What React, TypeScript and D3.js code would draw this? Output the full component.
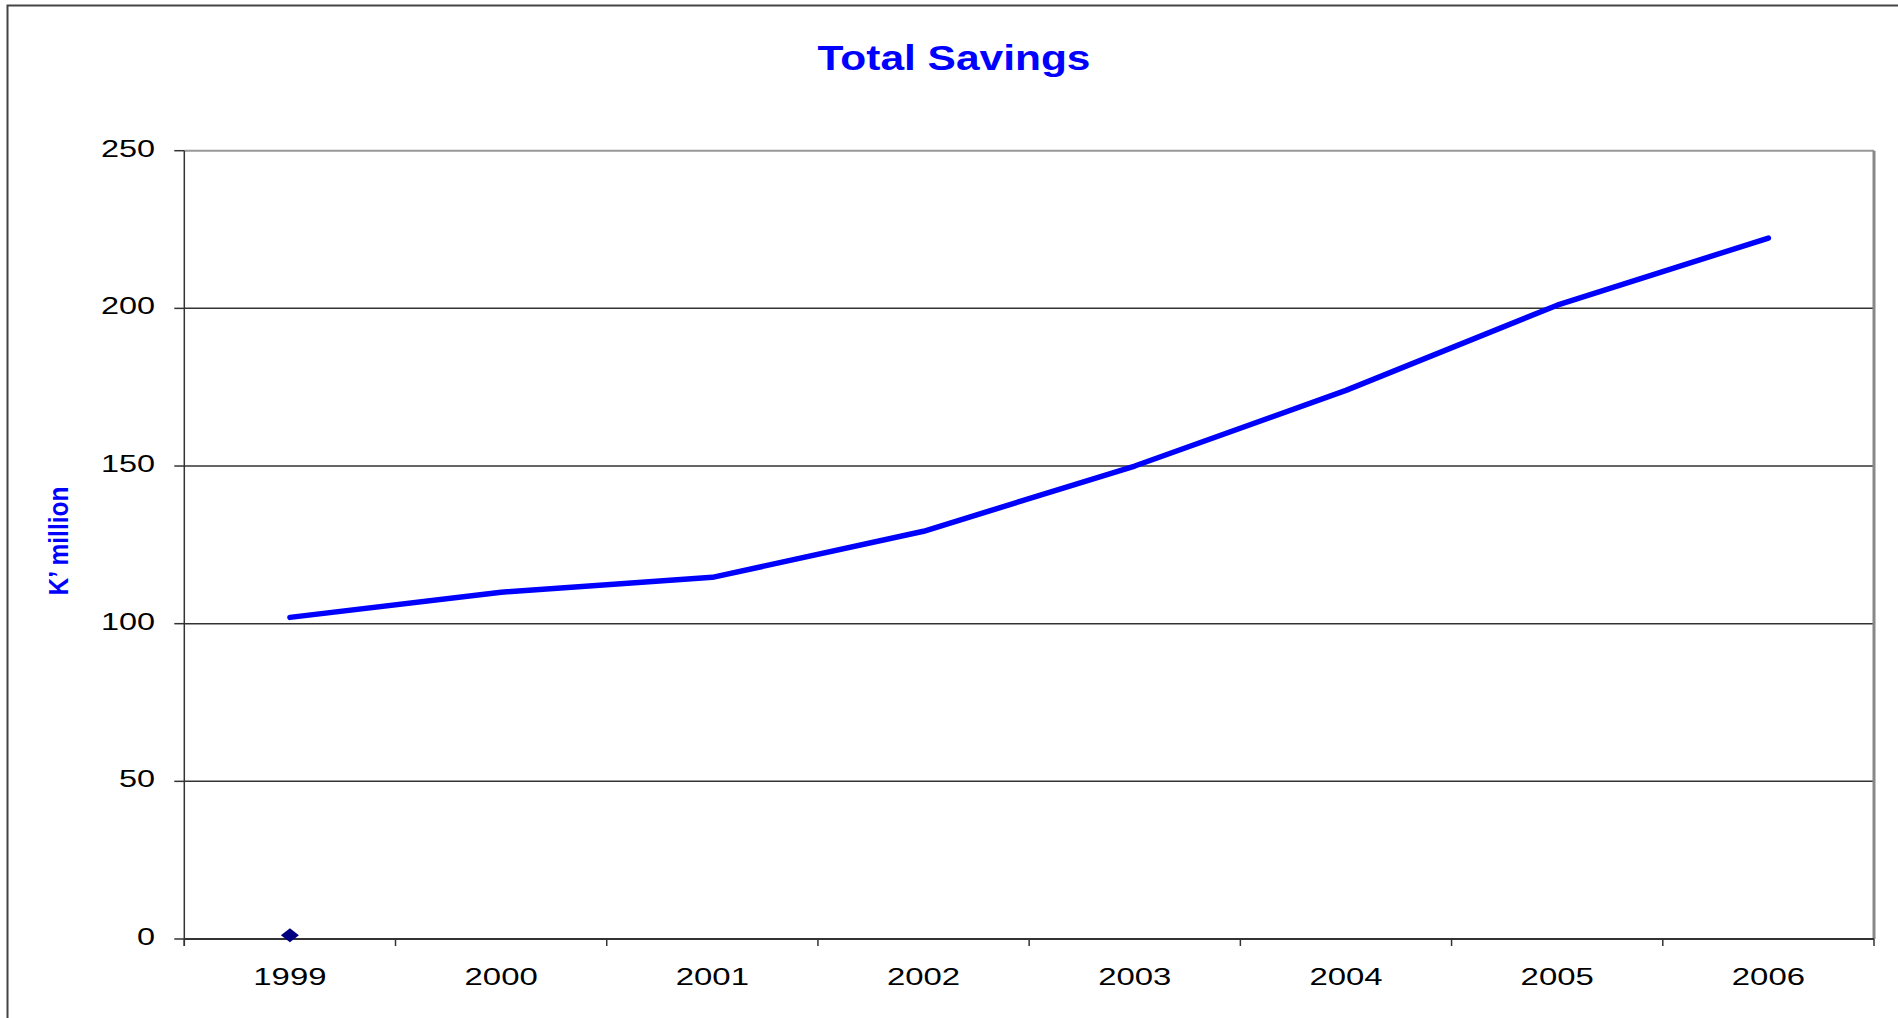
import React from "react";
import * as d3 from "d3";

const years = ["1999", "2000", "2001", "2002", "2003", "2004", "2005", "2006"];
const savings = [102, 110, 114.7, 129.3, 150, 174, 201, 222.3];
const markerYears = ["1999"];
const markerValues = [1.2];
const yTicks = [0, 50, 100, 150, 200, 250];
const titleText = "Total Savings";
const yLabelText = "K’ million";

const W = 1898;
const H = 1018;
const plot = { left: 184.3, right: 1874, top: 150.7, bottom: 939 };
const FONT = "'Liberation Sans', Arial, Helvetica, sans-serif";

export default function App() {
  const x = d3.scaleBand<string>().domain(years).range([plot.left, plot.right]).padding(0);
  const y = d3.scaleLinear().domain([0, 250]).range([plot.bottom, plot.top]);
  const cx = (c: string) => (x(c) as number) + x.bandwidth() / 2;

  const line = d3
    .line<number>()
    .x((_, i) => cx(years[i]))
    .y((d) => y(d));

  const boundaries = years.map((c) => x(c) as number).concat([plot.right]);

  return (
    <svg
      width={W}
      height={H}
      style={{ position: "absolute", left: 0, top: 0, background: "#fff" }}
      fontFamily={FONT}
    >
      <rect x={0} y={0} width={W} height={H} fill="#fff" />
      {/* outer chart border */}
      <rect x={7.5} y={5.5} width={W + 20} height={H + 20} fill="none" stroke="#444" strokeWidth={2} />

      {/* title */}
      <text
        transform={`translate(954,70) scale(1.18,1)`}
        textAnchor="middle"
        fontSize={36}
        fontWeight="bold"
        fill="#0000ff"
      >
        {titleText}
      </text>

      {/* y label */}
      <text
        transform={`translate(68,541) scale(1.12,1) rotate(-90)`}
        textAnchor="middle"
        fontSize={24.5}
        fontWeight="bold"
        fill="#0000ff"
      >
        {yLabelText}
      </text>

      {/* gridlines */}
      {yTicks
        .filter((t) => t !== 0 && t !== 250)
        .map((t) => (
          <line key={"g" + t} x1={plot.left} x2={plot.right} y1={y(t)} y2={y(t)} stroke="#333" strokeWidth={1.5} />
        ))}
      {/* plot border top and right (gray) */}
      <line x1={plot.left} x2={plot.right} y1={y(250)} y2={y(250)} stroke="#999" strokeWidth={2} />
      <line x1={plot.right} x2={plot.right} y1={y(250)} y2={plot.bottom} stroke="#888" strokeWidth={3} />

      {/* y axis */}
      <line x1={plot.left} x2={plot.left} y1={plot.top} y2={plot.bottom + 7} stroke="#333" strokeWidth={1.5} />
      {yTicks.map((t) => (
        <g key={"yt" + t}>
          <line x1={plot.left - 10} x2={plot.left} y1={y(t)} y2={y(t)} stroke="#333" strokeWidth={1.5} />
          <text
            transform={`translate(155,${y(t) + 6}) scale(1.38,1)`}
            textAnchor="end"
            fontSize={23.5}
            fill="#000"
          >
            {t}
          </text>
        </g>
      ))}

      {/* x axis */}
      <line x1={plot.left} x2={plot.right} y1={plot.bottom} y2={plot.bottom} stroke="#333" strokeWidth={2} />
      {boundaries.map((b, i) => (
        <line key={"xt" + i} x1={b} x2={b} y1={plot.bottom} y2={plot.bottom + 7} stroke="#333" strokeWidth={1.5} />
      ))}
      {years.map((c) => (
        <text
          key={"xl" + c}
          transform={`translate(${cx(c)},984.5) scale(1.4,1)`}
          textAnchor="middle"
          fontSize={23.5}
          fill="#000"
        >
          {c}
        </text>
      ))}

      {/* series line */}
      <path
        d={line(savings) || ""}
        fill="none"
        stroke="#0000ff"
        strokeWidth={5.5}
        strokeLinecap="round"
        strokeLinejoin="round"
      />

      {/* diamond marker series */}
      {markerYears.map((c, i) => {
        const px = cx(c);
        const py = y(markerValues[i]);
        return (
          <path
            key={"m" + c}
            d={`M${px},${py - 7} L${px + 9},${py} L${px},${py + 7} L${px - 9},${py} Z`}
            fill="#000080"
          />
        );
      })}
    </svg>
  );
}
